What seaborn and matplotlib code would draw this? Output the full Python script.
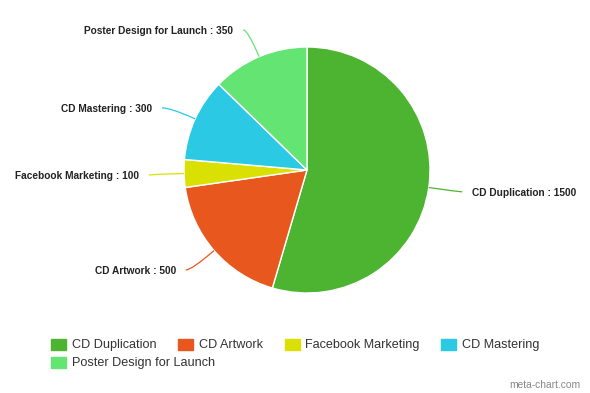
import matplotlib
matplotlib.use("Agg")
import matplotlib.pyplot as plt
import matplotlib.patches as mpatches
from matplotlib.path import Path
import numpy as np
import seaborn as sns

# chart data
categories = ["CD Duplication", "CD Artwork", "Facebook Marketing", "CD Mastering", "Poster Design for Launch"]
values = [1500, 500, 100, 300, 350]
colors = ["#4db432", "#e8581e", "#dbe004", "#2bc9e3", "#64e473"]

sns.set_theme(style="white")
plt.rcParams["font.family"] = ["Liberation Sans", "DejaVu Sans"]

W, H = 590, 393
fig = plt.figure(figsize=(W / 100, H / 100), dpi=100)

# pie axes: centre (307, 170) px, radius 123 px
cx, cy, r = 307, 170, 123
ax = fig.add_axes([(cx - r) / W, (H - cy - r) / H, 2 * r / W, 2 * r / H])
wedges, _ = ax.pie(values, colors=colors, startangle=90, counterclock=False,
                   radius=1, wedgeprops=dict(edgecolor="white", linewidth=1))
ax.set_xlim(-1, 1)
ax.set_ylim(-1, 1)
ax.set_aspect("equal")
ax.axis("off")

# label placement tweaks (radius, angle shift in degrees) to avoid overlap
label_r = [1.354, 1.345, 1.367, 1.354, 1.28]
label_shift = [0.3, -3.3, 0.4, 3.0, 5.0]
gap = 0.08
for w, cat, val, col, lr, sh in zip(wedges, categories, values, colors, label_r, label_shift):
    mid = np.deg2rad((w.theta1 + w.theta2) / 2)
    dx, dy = np.cos(mid), np.sin(mid)
    la = mid + np.deg2rad(sh)
    tx, ty = lr * np.cos(la), lr * np.sin(la)
    side = 1 if tx > 0 else -1
    ex, ey = tx - side * gap, ty + 0.008
    # control point: radial extension until the label's height
    t = ey / dy if abs(dy) > 1e-6 else 10
    t = min(t, abs(ex) / abs(dx)) if t > 0 else abs(ex) / abs(dx)
    ctrl = (dx * t, dy * t)
    path = Path([(dx, dy), ctrl, (ex, ey)], [Path.MOVETO, Path.CURVE3, Path.CURVE3])
    ax.add_patch(mpatches.PathPatch(path, fill=False, edgecolor=col, lw=0.9, clip_on=False))
    ax.text(tx, ty, f"{cat} : {val}", ha="left" if side > 0 else "right", va="center",
            fontsize=7.3, fontweight="bold", color="#222222", clip_on=False)

# legend: first row of four, second row of one
handles = [mpatches.Patch(color=c, label=l) for c, l in zip(colors, categories)]
leg_kw = dict(frameon=False, fontsize=9.1, handlelength=1.19, handleheight=0.95,
              handletextpad=0.45, columnspacing=1.72, borderaxespad=0, borderpad=0,
              loc="center left", labelcolor="#333333")
fig.legend(handles=handles[:4], ncol=4, bbox_to_anchor=(51 / W, 1 - 345 / H), **leg_kw)
fig.legend(handles=handles[4:], ncol=1, bbox_to_anchor=(51 / W, 1 - 363 / H), **leg_kw)

fig.text(580 / W, 1 - 385 / H, "meta-chart.com", ha="right", va="center",
         fontsize=7.4, color="#888888")

fig.savefig("out.png", dpi=100, facecolor="white")
